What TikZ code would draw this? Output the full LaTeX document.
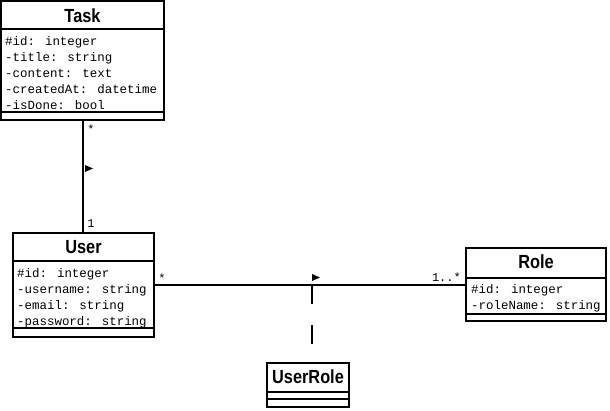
\documentclass[tikz,border=0pt]{standalone}
\usepackage{fontspec}
\newfontfamily\attrfont{Liberation Mono}
\newfontfamily\titlefont[FakeStretch=0.86]{Liberation Sans}
\begin{document}
\begin{tikzpicture}[x=1bp,y=-1bp,
  box/.style={draw, line width=2bp, inner sep=0pt, fill=white},
  sep/.style={line width=2bp},
  ttl/.style={anchor=base, inner sep=0pt, font=\titlefont\bfseries\fontsize{19bp}{22bp}\selectfont},
  attr/.style={anchor=base west, inner sep=0pt, font=\attrfont\fontsize{12.45bp}{15bp}\selectfont},
  mult/.style={inner sep=0pt, font=\attrfont\fontsize{12bp}{14bp}\selectfont},
  conn/.style={line width=2bp},
  dir/.style={fill=black}]
\useasboundingbox (0,0) rectangle (610,410);
\fill[white] (0,0) rectangle (610,410);

% Task
\node[box, minimum width=163bp, minimum height=119bp] (task) at (82.5,60.5) {};
\draw[sep] (task.west |- 0,29) -- (task.east |- 0,29);
\draw[sep] (task.west |- 0,112) -- (task.east |- 0,112);
\node[ttl] (taskt) at (82.5,22) {Task};
\node[attr] (ta1) at (5,45) {\#id: integer};
\node[attr] (ta2) at (5,61) {-title: string};
\node[attr] (ta3) at (5,77) {-content: text};
\node[attr] (ta4) at (5,93) {-createdAt: datetime};
\node[attr] (ta5) at (5,109) {-isDone: bool};

% User
\node[box, minimum width=141bp, minimum height=104bp] (user) at (83.5,285) {};
\draw[sep] (user.west |- 0,261) -- (user.east |- 0,261);
\draw[sep] (user.west |- 0,328) -- (user.east |- 0,328);
\node[ttl] (usert) at (83.5,253) {User};
\node[attr] (ua1) at (17,277) {\#id: integer};
\node[attr] (ua2) at (17,293) {-username: string};
\node[attr] (ua3) at (17,309) {-email: string};
\node[attr] (ua4) at (17,325) {-password: string};

% Role
\node[box, minimum width=140bp, minimum height=73bp] (role) at (536,284.5) {};
\draw[sep] (role.west |- 0,278) -- (role.east |- 0,278);
\draw[sep] (role.west |- 0,314) -- (role.east |- 0,314);
\node[ttl] (rolet) at (536,268) {Role};
\node[attr] (ra1) at (471,293) {\#id: integer};
\node[attr] (ra2) at (471,309) {-roleName: string};

% UserRole
\node[box, minimum width=82bp, minimum height=44bp] (ur) at (308,385) {};
\draw[sep] (ur.west |- 0,392) -- (ur.east |- 0,392);
\draw[sep] (ur.west |- 0,399) -- (ur.east |- 0,399);
\node[ttl] (urt) at (308,383) {UserRole};

% Task -- User
\coordinate (tu) at (83,0);
\draw[conn] (task.south -| tu) -- (user.north -| tu);
\fill[dir] (85,165) -- (85,172) -- (93,168.5) -- cycle;
\node[mult, anchor=base] (m1) at (91,133) {*};
\node[mult, anchor=base] (m2) at (91,227) {1};

% User -- Role
\draw[conn] (user.east) -- (user.east -| role.west);
\fill[dir] (312,274) -- (312,281) -- (320,277.5) -- cycle;
\node[mult, anchor=base] (m3) at (162,282) {*};
\node[mult, anchor=base east] (m4) at (461,281) {1..*};

% association class link
\coordinate (ac) at (312,285);
\draw[conn, dash pattern=on 19bp off 21bp] (ac) -- (ac |- ur.north);
\end{tikzpicture}
\end{document}
